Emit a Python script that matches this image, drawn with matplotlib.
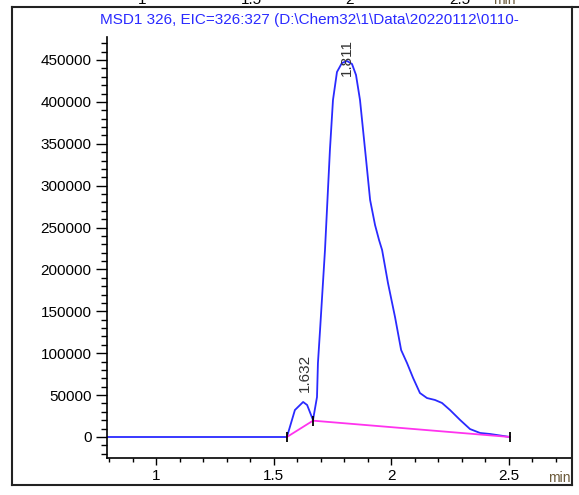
import matplotlib.pyplot as plt
from matplotlib.ticker import MultipleLocator
from matplotlib.lines import Line2D

plt.rcParams['font.family'] = ['Liberation Sans', 'DejaVu Sans']

# EIC trace (time in min, abundance)
time = [0.79, 1.557, 1.591, 1.626, 1.643, 1.668, 1.685, 1.689, 1.698, 1.719,
        1.740, 1.753, 1.770, 1.791, 1.813, 1.834, 1.851, 1.868, 1.894, 1.911,
        1.932, 1.949, 1.962, 1.987, 2.017, 2.043, 2.068, 2.094, 2.123, 2.153,
        2.187, 2.217, 2.251, 2.294, 2.336, 2.379, 2.421, 2.464, 2.506]
signal = [0, 0, 32200, 41800, 38200, 20300, 47700, 88300, 127700, 223200,
          342600, 402200, 435700, 446400, 448800, 445200, 432100, 402200, 330600, 282900,
          253000, 235100, 223200, 183800, 143200, 103800, 88300, 70400, 52500, 46500,
          44200, 40600, 32200, 20300, 9500, 4800, 3600, 1800, 0]

# integration baseline
base_t = [1.557, 1.668, 2.506]
base_v = [0, 19500, 0]

# peak labels
peak_t = [1.632, 1.811]
peak_lbl = ['1.632', '1.811']
peak_lbl_v = [76000, 453000]

xticks = [1, 1.5, 2, 2.5]
xtick_lbl = ['1', '1.5', '2', '2.5']
yticks = [0, 50000, 100000, 150000, 200000, 250000, 300000, 350000, 400000, 450000]

# labels of the chart above, cut off at the top
top_x = [142, 251, 350, 460]
top_lbl = ['1', '1.5', '2', '2.5']

W, H = 579, 495
fig = plt.figure(figsize=(W / 100, H / 100), dpi=100)
ax = fig.add_axes([107 / W, (H - 458) / H, (572 - 107) / W, (458 - 37) / H])

ax.plot(time, signal, color='#2a2aff', lw=1.3)
ax.plot(base_t, base_v, color='#ff33ee', lw=1.3)
ax.plot(base_t, base_v, ls='none', marker='|', ms=7, mew=1.3, color='black')

for t, lbl, v in zip(peak_t, peak_lbl, peak_lbl_v):
    ax.text(t, v, lbl, rotation=90, ha='center', va='center', fontsize=11, color='#333333')

ax.set_xlim(0.7915, 2.770)
ax.set_ylim(-25066, 477440)
ax.set_xticks(xticks)
ax.set_xticklabels(xtick_lbl)
ax.set_yticks(yticks)
ax.xaxis.set_minor_locator(MultipleLocator(0.1))
ax.yaxis.set_minor_locator(MultipleLocator(10000))
ax.tick_params(axis='y', which='major', length=8, width=1, labelsize=11, pad=3)
ax.tick_params(axis='y', which='minor', length=4, width=1)
ax.tick_params(axis='x', which='major', length=5, width=1, labelsize=11, pad=3)
ax.tick_params(axis='x', which='minor', length=3, width=1)
ax.spines['top'].set_visible(False)
ax.spines['right'].set_visible(False)
for s in ['left', 'bottom']:
    ax.spines[s].set_linewidth(1.2)

fig.text(548 / W, (H - 478) / H, 'min', fontsize=10, color='#6b5a3a', va='center')

# title line inside the frame
fig.text(100 / W, (H - 20) / H, 'MSD1 326, EIC=326:327 (D:\\Chem32\\1\\Data\\20220112\\0110-',
         fontsize=11, color='#2a2aff', va='center')

for x, lbl in zip(top_x, top_lbl):
    fig.text(x / W, (H - 4) / H, lbl, fontsize=11, ha='center', va='baseline')
fig.text(493 / W, (H - 4) / H, 'min', fontsize=10, color='#6b5a3a', va='baseline')

# outer frame lines
def fline(x0, y0, x1, y1, lw=1.5):
    fig.add_artist(Line2D([x0 / W, x1 / W], [(H - y0) / H, (H - y1) / H], color='#222222', lw=lw))

fline(12, 7, 579, 7)
fline(12, 7, 12, 485)
fline(12, 485, 572, 485)
fline(572, 7, 572, 485)

plt.savefig('out.png', dpi=100)
